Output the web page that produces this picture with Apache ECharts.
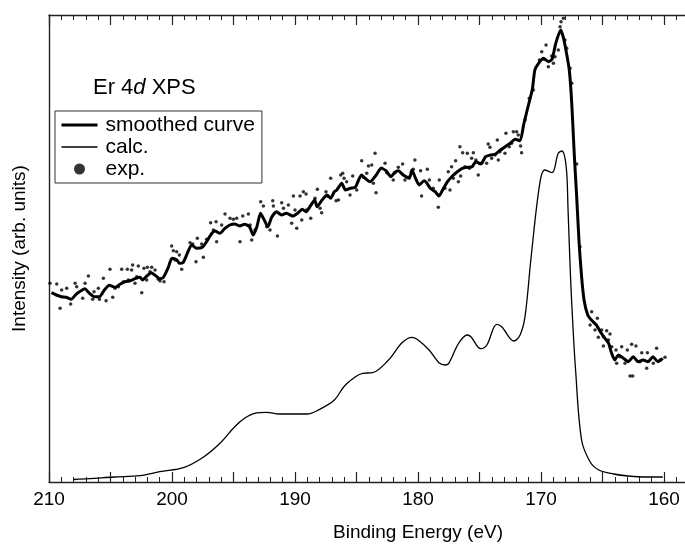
<!DOCTYPE html>
<html>
<head>
<meta charset="utf-8">
<script src="https://cdn.jsdelivr.net/npm/echarts@6/dist/echarts.min.js"></script>
<style>
  html, body { margin: 0; padding: 0; background: #fff; }
  #chart { width: 685px; height: 546px; }
</style>
</head>
<body>
<div id="chart"></div>
<script>
// binding energy (eV), intensity (arb. units)
const smoothedCurve = [
  [209.8, 189.3], [209.4, 187], [209.0, 185.3], [208.6, 184.7], [208.2, 182.7], [207.8, 187.7],
  [207.3, 192], [207.1, 193.3], [206.7, 188.7], [206.3, 185.3], [205.9, 185.3], [205.5, 192],
  [205.1, 196.7], [204.6, 194.7], [204.2, 198], [203.8, 200.3], [203.4, 201.3], [203.0, 203.3],
  [202.6, 204.7], [202.4, 202], [202.1, 205.3], [201.7, 209.3], [201.4, 207], [201.0, 203.3],
  [200.7, 204.7], [200.3, 214.7], [200.0, 223.7], [199.6, 222], [199.4, 218.7], [199.1, 219.3],
  [198.7, 230.3], [198.4, 237], [198.0, 233.7], [197.5, 235], [197.1, 242], [196.8, 248],
  [196.5, 251], [196.1, 248.7], [195.7, 253.7], [195.3, 257], [194.9, 258], [194.5, 256],
  [194.1, 257.7], [193.7, 255.3], [193.4, 247], [193.1, 255.3], [192.8, 268.7], [192.5, 262],
  [192.2, 255.3], [191.9, 264.7], [191.5, 270.3], [191.1, 267], [190.7, 268.7], [190.2, 266],
  [189.8, 268.7], [189.4, 272.7], [189.1, 270.3], [188.7, 277], [188.4, 282], [188.2, 275.3],
  [187.8, 282], [187.4, 287], [187.1, 283.7], [186.8, 290.3], [186.6, 292], [186.2, 298.7],
  [185.9, 292], [185.5, 293.7], [185.1, 294.7], [184.6, 307], [184.3, 303.7], [183.9, 300.3],
  [183.4, 307], [183.0, 313.7], [182.6, 311.3], [182.2, 305.3], [181.9, 309.5], [181.6, 311.3],
  [181.2, 307], [180.7, 303.7], [180.5, 312], [180.2, 303.7], [179.9, 297], [179.5, 301.3],
  [179.3, 299.3], [179.0, 293.7], [178.6, 290.3], [178.3, 286], [178.0, 292], [177.6, 300.3],
  [177.2, 306], [176.8, 310.3], [176.4, 313.7], [176.0, 314.7], [175.6, 315.3], [175.3, 320.3],
  [174.9, 318], [174.5, 325.3], [174.1, 327], [173.7, 328], [173.3, 332], [172.9, 335.3],
  [172.5, 338.7], [172.1, 342.7], [171.7, 341.3], [171.4, 358], [171.0, 378], [170.7, 393],
  [170.5, 412], [170.2, 418.7], [169.8, 423.7], [169.4, 420.3], [169.1, 422.7], [168.8, 438.7],
  [168.4, 452], [168.2, 445.3], [168.0, 433.7], [167.7, 412], [167.5, 378.7], [167.3, 328.7],
  [167.1, 285.3], [166.9, 238.7], [166.7, 205.3], [166.5, 182], [166.2, 167], [165.9, 162],
  [165.5, 157], [165.1, 148.7], [164.8, 143.7], [164.5, 138.7], [164.3, 130.3], [164.0, 122],
  [163.7, 127], [163.3, 123.7], [162.9, 120.3], [162.5, 125.3], [162.1, 120.3], [161.7, 122],
  [161.3, 120.3], [160.9, 125.3], [160.5, 120.3], [160.1, 123.7]
];

const calcCurve = [
  [208.0, 2.5], [206.7, 3.3], [204.7, 5], [202.6, 6.3], [201.0, 10.3], [199.0, 14.7],
  [197.4, 25.3], [196.1, 38.7], [194.9, 55.3], [194.1, 63.7], [193.3, 68.7], [192.3, 69.7],
  [191.3, 68], [190.0, 68], [189.0, 68], [188.0, 72.7], [186.8, 82], [185.9, 97],
  [184.5, 108.7], [183.7, 109.3], [182.4, 122], [181.3, 139.3], [180.5, 144.7], [180.1, 143],
  [179.1, 132], [178.3, 119.3], [177.8, 117], [177.5, 118.7], [176.7, 138.7], [176.0, 147],
  [175.7, 145.3], [174.9, 133.3], [174.4, 137], [173.6, 157.7], [173.2, 155.3], [172.2, 141],
  [171.7, 147], [171.3, 165.3], [170.8, 225.3], [170.1, 298.7], [169.7, 312], [169.1, 309.3],
  [168.6, 328.7], [168.3, 331], [167.95, 315], [167.8, 272], [167.6, 205], [167.4, 155],
  [167.2, 114], [166.7, 42], [166.0, 20], [165.3, 12], [164.1, 8], [162.9, 6],
  [161.3, 5], [160.1, 5]
];

const expPoints = [
  [209.92, 198.7], [209.37, 198], [209.1, 173.7], [208.97, 192], [208.56, 193.7], [208.24, 178],
  [207.88, 198.7], [207.75, 195.3], [207.26, 183.7], [207.07, 198.7], [206.8, 206], [206.45, 182.7],
  [206.34, 190.3], [205.99, 193.7], [205.9, 182.7], [205.58, 203.7], [205.36, 181.3], [205.04, 212.7],
  [204.82, 184.7], [204.63, 193.7], [204.36, 195.3], [204.09, 212.7], [203.95, 200.3], [203.63, 212.7],
  [203.55, 202], [203.28, 212], [203.2, 217], [203.01, 198.7], [202.87, 205.3], [202.74, 216],
  [202.46, 189.3], [202.28, 213.7], [202.06, 202], [202.0, 214.7], [201.79, 210.3], [201.65, 214.7],
  [201.38, 212], [201.11, 202.7], [200.97, 201], [200.65, 200.3], [200.03, 236], [199.89, 231.3],
  [199.75, 222], [199.62, 230.3], [199.4, 227], [199.21, 212.7], [198.53, 239.3], [198.32, 238],
  [198.05, 220.3], [197.94, 243.7], [197.59, 238], [197.45, 224.7], [197.18, 242.7], [196.86, 259.3],
  [196.64, 252], [196.42, 260.3], [196.37, 240.3],
  [195.96, 257], [195.69, 268], [195.28, 263.7], [195.01, 262.7], [194.74, 263.7], [194.47, 240.3],
  [194.25, 266], [193.79, 268], [193.65, 257], [193.52, 242], [193.25, 252], [192.79, 280.3],
  [192.57, 276], [192.3, 255.3], [192.03, 252], [191.81, 281.3], [191.76, 276], [191.43, 246],
  [191.08, 279.3], [190.94, 273.7], [190.54, 277], [190.27, 258.7], [190.13, 286], [190.0, 272],
  [189.86, 253.7], [189.59, 286], [189.45, 262], [189.32, 290.3], [189.1, 288], [189.05, 272],
  [188.72, 263.7], [188.37, 283.7], [188.18, 292.7], [187.96, 273.7], [187.83, 269.3], [187.48, 290.3],
  [187.37, 286], [187.1, 303.7], [186.66, 281.3], [186.47, 282], [186.28, 307], [186.12, 308.7],
  [186.01, 303.7], [185.8, 300.3], [185.53, 287], [185.31, 306], [184.98, 292], [184.58, 321.3],
  [184.44, 304.7], [184.17, 308.7], [184.03, 316], [183.76, 317], [183.63, 298.7], [183.49, 328.7],
  [183.41, 289.3], [182.95, 313.7], [182.68, 318.7], [182.54, 309.3],
  [182.01, 302], [181.87, 309.3], [181.6, 314.7], [181.25, 318], [181.06, 302], [180.79, 304.7],
  [180.38, 312.7], [180.25, 322], [179.79, 311.3], [179.71, 286], [179.24, 312.7], [179.08, 302],
  [178.76, 293.7], [178.35, 274.7], [178.27, 302], [177.81, 293.7], [177.54, 310.3], [177.4, 292],
  [177.27, 315.3], [177.13, 303.7], [176.94, 321.3], [176.72, 300.3], [176.59, 335.3], [176.53, 306],
  [176.37, 329.3], [176.18, 315.3], [175.99, 328.7], [175.83, 313.7], [175.64, 323.7], [175.5, 329.3],
  [175.29, 322], [175.1, 307], [174.83, 318.7], [174.42, 318.7], [174.29, 338], [174.15, 334.7],
  [174.01, 323.7], [173.74, 327], [173.55, 342], [173.47, 322], [173.34, 330.3], [173.2, 332.7],
  [172.93, 328.7], [172.85, 348.7], [172.58, 335.3], [172.39, 338.7], [172.25, 350.3], [171.98, 350.3],
  [171.85, 347], [171.66, 336], [171.58, 329.3], [171.3, 362], [170.95, 383.7],
  [170.62, 392], [170.13, 422], [169.94, 430.3], [169.81, 422.7], [169.59, 437], [169.4, 415.3],
  [169.13, 426], [168.99, 418.7], [168.86, 425.3], [168.59, 432], [168.45, 455.3], [168.37, 460.3],
  [168.18, 463.7], [168.05, 442], [167.91, 433.7], [167.64, 413.7], [167.5, 398.7], [167.1, 318],
  [166.83, 235.3],
  [165.88, 170.3], [165.42, 163.7], [166.01, 157], [165.61, 152], [165.07, 152], [164.66, 151.3],
  [164.39, 148], [164.93, 145.3], [165.34, 144.7], [164.52, 142], [164.93, 136], [164.25, 135.3],
  [163.44, 135.3], [162.63, 137.7], [162.28, 136], [163.9, 132], [162.98, 132], [161.81, 129.3],
  [161.35, 129.3], [160.6, 133.7], [163.85, 118.7], [163.17, 118.7], [161.41, 113.7], [162.76, 106],
  [162.55, 106], [160.32, 122], [159.92, 124.7], [163.58, 125.3], [161.95, 120.3], [160.87, 118.7]
];

const energyMin = 150;
const energyMax = 210;
const intensityMax = 467;

const font = 'Liberation Sans, Arial, Helvetica, sans-serif';
const axisColor = '#222';

const chart = echarts.init(document.getElementById('chart'), null, { renderer: 'canvas' });

const xAxisBase = {
  type: 'value',
  min: energyMin,
  max: energyMax,
  interval: 5,
  inverse: true,
  splitLine: { show: false },
  axisLine: { show: true, lineStyle: { color: axisColor, width: 1.4 } },
  axisTick: { show: true, inside: true, length: 10, lineStyle: { color: axisColor, width: 1.2 } },
  minorTick: { show: true, splitNumber: 5, length: 5, lineStyle: { color: axisColor, width: 1 } }
};

chart.setOption({
  animation: false,
  backgroundColor: '#fff',
  title: {
    text: '{a|Er 4}{b|d}{a| XPS}',
    left: 88,
    top: 72,
    textStyle: {
      fontWeight: 'normal',
      rich: {
        a: { fontSize: 22, fontFamily: font, fontWeight: 'normal', color: '#000' },
        b: { fontSize: 22, fontFamily: font, fontWeight: 'normal', fontStyle: 'italic', color: '#000' }
      }
    }
  },
  legend: {
    left: 55,
    top: 111,
    orient: 'vertical',
    data: [
      { name: 'smoothed curve', itemStyle: { opacity: 0 }, lineStyle: { width: 3, color: '#000' } },
      { name: 'calc.', itemStyle: { opacity: 0 }, lineStyle: { width: 1.3, color: '#000' } },
      { name: 'exp.', icon: 'circle', itemStyle: { color: '#000' } }
    ],
    itemWidth: 36,
    itemHeight: 11,
    itemGap: 0,
    padding: [3, 7, 3, 5],
    borderColor: '#333',
    borderWidth: 1,
    borderRadius: 0,
    backgroundColor: '#fff',
    selectedMode: false,
    textStyle: { fontSize: 21, lineHeight: 22, fontFamily: font, color: '#000', padding: [0, 0, 0, 3] }
  },
  grid: {
    left: 49,
    right: 685 - 49 - (energyMax - energyMin) * 12.3,
    top: 15,
    bottom: 64,
    outerBoundsMode: 'none'
  },
  xAxis: [
    Object.assign({}, xAxisBase, {
      position: 'bottom',
      name: 'Binding Energy (eV)',
      nameLocation: 'middle',
      nameGap: 41,
      nameTextStyle: { fontSize: 19, fontFamily: font, color: '#000' },
      axisLabel: {
        margin: 8,
        fontSize: 19,
        fontFamily: font,
        color: '#000',
        formatter: (v) => (v % 10 === 0 ? String(v) : '')
      }
    }),
    Object.assign({}, xAxisBase, {
      position: 'top',
      axisLabel: { show: false }
    })
  ],
  yAxis: {
    type: 'value',
    min: 0,
    max: intensityMax,
    name: 'Intensity (arb. units)',
    nameLocation: 'middle',
    nameGap: 20,
    nameTextStyle: { fontSize: 19, fontFamily: font, color: '#000' },
    splitLine: { show: false },
    axisLine: { show: true, lineStyle: { color: axisColor, width: 1.4 } },
    axisTick: { show: false },
    axisLabel: { show: false }
  },
  series: [
    {
      name: 'smoothed curve',
      type: 'line',
      data: smoothedCurve,
      symbol: 'none',
      smooth: 0.2,
      color: '#000',
      lineStyle: { color: '#000', width: 3 },
      z: 3
    },
    {
      name: 'calc.',
      type: 'line',
      data: calcCurve,
      symbol: 'none',
      smooth: 0.35,
      color: '#000',
      lineStyle: { color: '#000', width: 1.3 },
      z: 3
    },
    {
      name: 'exp.',
      type: 'scatter',
      data: expPoints,
      symbol: 'circle',
      symbolSize: 3.5,
      itemStyle: { color: '#000' },
      z: 2
    }
  ]
});
</script>
</body>
</html>
